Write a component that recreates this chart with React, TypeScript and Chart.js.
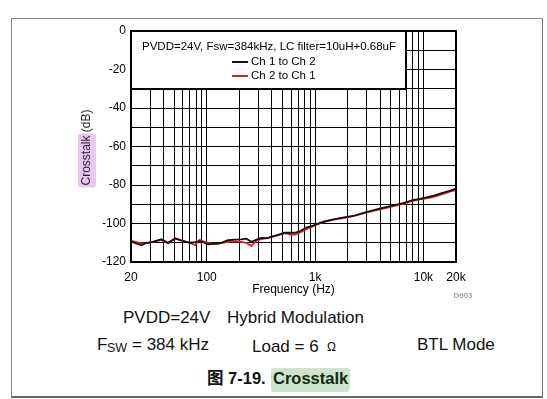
import React, { useEffect, useRef } from 'react';
import { Chart, registerables } from 'chart.js';

Chart.register(...registerables);

// ---- data ----
const FREQ_HZ = [20, 22, 25, 28, 32, 38, 44, 51, 60, 70, 78, 86, 95, 103, 115, 127, 140, 157, 180, 208, 232, 258, 285, 319, 360, 394, 450, 525, 600, 650, 730, 840, 950, 1040, 1200, 1480, 1800, 2250, 2800, 3700, 4500, 5300, 6500, 8000, 9300, 10700, 12500, 15300, 17500, 20000];
const CH1_TO_CH2 = [-109.4, -110.2, -111.3, -110, -109.5, -108.2, -110, -107.9, -109, -110, -109.7, -109.2, -110, -110.8, -110.6, -110.5, -109.8, -108.7, -108.4, -108.2, -107.9, -109.5, -108.5, -107.5, -107.6, -107, -106, -104.8, -104.8, -104.8, -103.9, -102, -101.2, -100.3, -99, -97.8, -97, -96.1, -94.5, -92.6, -91.5, -90.6, -89.4, -87.8, -87.2, -86.4, -85.5, -84, -83, -81.9];
const CH2_TO_CH1 = [-109, -109.5, -110.3, -110.2, -109.5, -108.5, -110.3, -107.5, -109, -110, -111.2, -108.5, -109.5, -110, -110.5, -110.5, -110, -109.5, -109.3, -109.5, -110, -111.7, -109, -108.1, -107.6, -106.9, -106.2, -105, -105.8, -105.8, -104.7, -102.8, -101.5, -100.4, -99.3, -98, -97.2, -96.2, -94.7, -93, -92, -91, -89.8, -88.3, -87.5, -87, -86.2, -84.6, -83.5, -82.6];
const SERIES_LABELS = ['Ch 1 to Ch 2', 'Ch 2 to Ch 1'];
const LEGEND_TITLE = 'PVDD=24V, Fsw=384kHz, LC filter=10uH+0.68uF';
const X_GRID_TICKS = [20, 30, 40, 50, 60, 70, 80, 90, 100, 200, 300, 400, 500, 600, 700, 800, 900, 1000, 2000, 3000, 4000, 5000, 6000, 7000, 8000, 9000, 10000, 20000];
const X_TICK_LABELS: Record<number, string> = { 20: '20', 100: '100', 1000: '1k', 10000: '10k', 20000: '20k' };
const Y_MIN = -120;
const Y_MAX = 0;
const Y_STEP = 10;
const Y_LABEL_STEP = 20;
const X_TITLE = 'Frequency (Hz)';
const Y_TITLE_HL = 'Crosstalk';
const Y_TITLE_REST = ' (dB)';
const FIG_ID = 'D003';

const FONT = 'Arial, "Liberation Sans", Helvetica, sans-serif';

const overlayPlugin = {
  id: 'overlay',
  afterDatasetsDraw(chart: any) {
    const { ctx, chartArea: a } = chart;
    ctx.save();
    // legend box
    const lw = 275, lh = 58;
    ctx.fillStyle = '#fff';
    ctx.fillRect(a.left, a.top, lw, lh);
    ctx.strokeStyle = '#000';
    ctx.lineWidth = 2;
    ctx.strokeRect(a.left, a.top, lw, lh);
    ctx.fillStyle = '#000';
    ctx.font = `11.5px ${FONT}`;
    ctx.textAlign = 'center';
    ctx.textBaseline = 'middle';
    ctx.fillText(LEGEND_TITLE, a.left + 138, a.top + 16);
    chart.data.datasets.forEach((ds: any, i: number) => {
      const y = a.top + 31 + i * 14;
      ctx.strokeStyle = ds.borderColor;
      ctx.lineWidth = 2;
      ctx.beginPath();
      ctx.moveTo(a.left + 101, y);
      ctx.lineTo(a.left + 117, y);
      ctx.stroke();
      ctx.fillStyle = '#000';
      ctx.textAlign = 'left';
      ctx.fillText(ds.label, a.left + 120, y);
    });
    // plot border
    ctx.strokeStyle = '#000';
    ctx.lineWidth = 2;
    ctx.strokeRect(a.left, a.top, a.right - a.left, a.bottom - a.top);

    // x title
    ctx.fillStyle = '#000';
    ctx.font = `12px ${FONT}`;
    ctx.textAlign = 'center';
    ctx.textBaseline = 'middle';
    ctx.fillText(X_TITLE, (a.left + a.right) / 2, a.bottom + 28);

    // fig id
    ctx.fillStyle = '#a0a0a0';
    ctx.font = `bold 8px ${FONT}`;
    ctx.fillText(FIG_ID, a.right + 7, a.bottom + 34);

    // y title (rotated) with highlight
    ctx.save();
    ctx.translate(87, (a.top + a.bottom) / 2 + 1);
    ctx.rotate(-Math.PI / 2);
    ctx.font = `12px ${FONT}`;
    const wAll = ctx.measureText(Y_TITLE_HL + Y_TITLE_REST).width;
    const wHl = ctx.measureText(Y_TITLE_HL).width;
    const x0 = -wAll / 2;
    ctx.fillStyle = '#e8c6ee';
    ctx.beginPath();
    if (ctx.roundRect) ctx.roundRect(x0 - 2, -9, wHl + 4, 18, 3);
    else ctx.rect(x0 - 2, -9, wHl + 4, 18);
    ctx.fill();
    ctx.fillStyle = '#2a1f2e';
    ctx.textAlign = 'left';
    ctx.textBaseline = 'middle';
    ctx.fillText(Y_TITLE_HL + Y_TITLE_REST, x0, 0);
    ctx.restore();

    ctx.restore();
  },
};

function CrosstalkChart() {
  const ref = useRef<HTMLCanvasElement | null>(null);
  useEffect(() => {
    if (!ref.current) return;
    const chart = new Chart(ref.current, {
      type: 'line',
      data: {
        datasets: [
          {
            label: SERIES_LABELS[0],
            data: FREQ_HZ.map((f, i) => ({ x: f, y: CH1_TO_CH2[i] })),
            borderColor: '#111111',
            borderWidth: 1.8,
            pointRadius: 0,
            tension: 0,
          },
          {
            label: SERIES_LABELS[1],
            data: FREQ_HZ.map((f, i) => ({ x: f, y: CH2_TO_CH1[i] })),
            borderColor: '#e0201c',
            borderWidth: 1.8,
            pointRadius: 0,
            tension: 0,
          },
        ],
      },
      options: {
        animation: false,
        responsive: false,
        maintainAspectRatio: false,
        layout: { padding: { left: 0, top: 31, right: 91, bottom: 0 } },
        plugins: { legend: { display: false }, tooltip: { enabled: false } },
        scales: {
          x: {
            type: 'logarithmic',
            min: 20,
            max: 20000,
            afterBuildTicks: (s: any) => {
              s.ticks = X_GRID_TICKS.map((v) => ({ value: v }));
            },
            afterFit: (s: any) => {
              s.height = 43;
            },
            ticks: {
              autoSkip: false,
              maxRotation: 0,
              minRotation: 0,
              padding: 8,
              color: '#000',
              font: { family: FONT, size: 12 },
              callback: (v: any) => X_TICK_LABELS[Number(v)] ?? '',
            },
            grid: { color: '#000', lineWidth: 1, drawTicks: false },
            border: { display: false },
          },
          y: {
            type: 'linear',
            min: Y_MIN,
            max: Y_MAX,
            afterFit: (s: any) => {
              s.width = 131;
            },
            ticks: {
              stepSize: Y_STEP,
              padding: 5,
              color: '#000',
              font: { family: FONT, size: 12 },
              callback: (v: any) => (Number(v) % Y_LABEL_STEP === 0 ? String(v) : ''),
            },
            grid: { color: '#000', lineWidth: 1, drawTicks: false },
            border: { display: false },
          },
        },
      },
      plugins: [overlayPlugin],
    });
    return () => chart.destroy();
  }, []);
  return (
    <canvas
      ref={ref}
      width={547}
      height={305}
      style={{ position: 'absolute', left: 0, top: 0, width: 547, height: 305 }}
    />
  );
}

const txt = (extra: React.CSSProperties): React.CSSProperties => ({
  position: 'absolute',
  fontFamily: FONT,
  color: '#111',
  lineHeight: 1,
  whiteSpace: 'pre',
  ...extra,
});

export default function App() {
  return (
    <div style={{ position: 'absolute', left: 0, top: 0, width: 547, height: 399, background: '#fff', overflow: 'hidden' }}>
      <div
        style={{
          position: 'absolute',
          left: 11,
          top: 18,
          width: 532,
          height: 380,
          boxSizing: 'border-box',
          borderLeft: '1px solid #888',
          borderTop: '1px solid #888',
          borderRight: '1px solid #777',
          borderBottom: '2px solid #666',
        }}
      />
      <CrosstalkChart />
      <span style={txt({ left: 123, top: 309, fontSize: 17 })}>PVDD=24V</span>
      <span style={txt({ left: 227, top: 309, fontSize: 17 })}>Hybrid Modulation</span>
      <span style={txt({ left: 97, top: 336, fontSize: 17 })}>F</span>
      <span style={txt({ left: 107, top: 342, fontSize: 12.5 })}>SW</span>
      <span style={txt({ left: 132, top: 336, fontSize: 17 })}>= 384 kHz</span>
      <span style={txt({ left: 252, top: 338, fontSize: 17 })}>Load = 6</span>
      <span style={txt({ left: 327, top: 341, fontSize: 12 })}>Ω</span>
      <span style={txt({ left: 417, top: 335.5, fontSize: 17 })}>BTL Mode</span>
      <span style={txt({ left: 207, top: 369.5, fontSize: 16.5, fontWeight: 'bold', fontFamily: `Arial, "Liberation Sans", "Noto Sans CJK SC", sans-serif` })}>图 7-19.</span>
      <div
        style={{
          position: 'absolute',
          left: 271,
          top: 368,
          width: 79,
          height: 24,
          background: '#cfe3cf',
          borderRadius: 3,
        }}
      />
      <span style={txt({ left: 273, top: 369.5, fontSize: 16.5, fontWeight: 'bold', color: '#0f2a12' })}>Crosstalk</span>
    </div>
  );
}
